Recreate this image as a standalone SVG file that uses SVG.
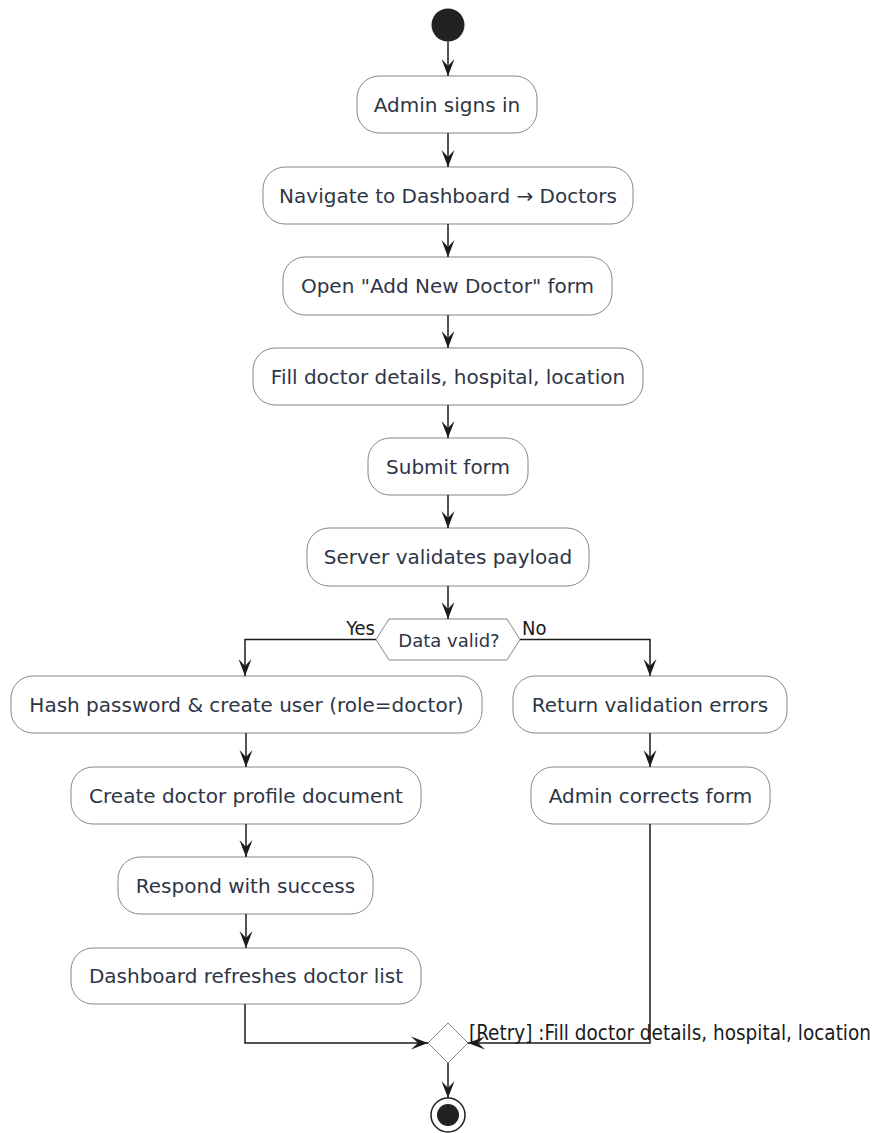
<svg xmlns="http://www.w3.org/2000/svg" width="876" height="1133" viewBox="0 0 876 1133">
  <style>
    .act rect { fill: #ffffff; stroke: #7f8794; stroke-width: 1; }
    .act text, .dec text { font-family: "DejaVu Sans", Verdana, sans-serif; font-size: 20px; fill: #2e3646; text-anchor: middle; dominant-baseline: central; }
    .dec text { font-size: 18px; }
    .dec polygon { fill: #ffffff; stroke: #7f8794; stroke-width: 1; }
    .edges path { fill: none; stroke: #1b1b1b; stroke-width: 1.5; }
    .lbl { font-family: "DejaVu Sans Condensed", "DejaVu Sans", sans-serif; font-size: 20px; fill: #1b1b1b; }
    .note { font-family: "DejaVu Sans Condensed", "DejaVu Sans", sans-serif; font-size: 20.5px; fill: #1b1b1b; }
  </style>
  <defs>
    <marker id="arr" viewBox="-18 -8 20 16" refX="0" refY="0" markerWidth="20" markerHeight="16" markerUnits="userSpaceOnUse" orient="auto">
      <path d="M0,0 L-17,-6.5 L-10,0 L-17,6.5 Z" fill="#1b1b1b"/>
    </marker>
  </defs>

  <rect width="876" height="1133" fill="#ffffff"/>

  <!-- start / end -->
  <g id="start"><circle cx="448" cy="25" r="16.5" fill="#222222"/></g>
  <g id="end">
    <circle cx="448" cy="1115" r="17" fill="#ffffff" stroke="#222222" stroke-width="1.5"/>
    <circle cx="448" cy="1115" r="11" fill="#222222"/>
  </g>

  <!-- activities -->
  <g id="n1" class="act"><rect x="357" y="76" width="180" height="57" rx="22"/><text x="447" y="104.5">Admin signs in</text></g>
  <g id="n2" class="act"><rect x="263" y="167" width="370" height="57" rx="22"/><text x="448" y="195.5">Navigate to Dashboard → Doctors</text></g>
  <g id="n3" class="act"><rect x="283" y="257" width="329" height="58" rx="22"/><text x="447.5" y="286">Open "Add New Doctor" form</text></g>
  <g id="n4" class="act"><rect x="253" y="348" width="390" height="57" rx="22"/><text x="448" y="376.5">Fill doctor details, hospital, location</text></g>
  <g id="n5" class="act"><rect x="368" y="438" width="160" height="57" rx="22"/><text x="448" y="466.5">Submit form</text></g>
  <g id="n6" class="act"><rect x="307" y="528" width="282" height="58" rx="22"/><text x="448" y="557">Server validates payload</text></g>

  <g id="d1" class="dec">
    <polygon points="376,639.5 389,619 507,619 520,639.5 507,660 389,660"/>
    <text x="449" y="640">Data valid?</text>
  </g>

  <g id="n7" class="act"><rect x="11" y="676" width="471" height="57" rx="22"/><text x="246.5" y="704.5">Hash password &amp; create user (role=doctor)</text></g>
  <g id="n8" class="act"><rect x="71" y="767" width="350" height="57" rx="22"/><text x="246" y="795.5">Create doctor profile document</text></g>
  <g id="n9" class="act"><rect x="118" y="857" width="255" height="57" rx="22"/><text x="245.5" y="885.5">Respond with success</text></g>
  <g id="n10" class="act"><rect x="71" y="948" width="350" height="56" rx="22"/><text x="246" y="976">Dashboard refreshes doctor list</text></g>

  <g id="n11" class="act"><rect x="513" y="676" width="274" height="57" rx="22"/><text x="650" y="704.5">Return validation errors</text></g>
  <g id="n12" class="act"><rect x="531" y="767" width="239" height="57" rx="22"/><text x="650.5" y="795.5">Admin corrects form</text></g>

  <g id="merge" class="dec"><polygon points="448,1023 468,1043 448,1063 428,1043"/></g>

  <!-- connectors -->
  <g id="edges" class="edges">
    <path d="M448,41.5 L448,76" marker-end="url(#arr)"/>
    <path d="M448,133 L448,167" marker-end="url(#arr)"/>
    <path d="M448,224 L448,257" marker-end="url(#arr)"/>
    <path d="M448,315 L448,348" marker-end="url(#arr)"/>
    <path d="M448,405 L448,438" marker-end="url(#arr)"/>
    <path d="M448,495 L448,528" marker-end="url(#arr)"/>
    <path d="M448,586 L448,619" marker-end="url(#arr)"/>
    <path d="M376,639.5 L245,639.5 L245,676" marker-end="url(#arr)"/>
    <path d="M520,639.5 L650,639.5 L650,676" marker-end="url(#arr)"/>
    <path d="M246,733 L246,767" marker-end="url(#arr)"/>
    <path d="M650,733 L650,767" marker-end="url(#arr)"/>
    <path d="M246,824 L246,857" marker-end="url(#arr)"/>
    <path d="M246,914 L246,948" marker-end="url(#arr)"/>
    <path d="M245,1004 L245,1043 L428,1043" marker-end="url(#arr)"/>
    <path d="M650,824 L650,1043 L468,1043" marker-end="url(#arr)"/>
    <path d="M448,1063 L448,1098" marker-end="url(#arr)"/>
  </g>

  <!-- edge labels -->
  <text class="lbl" x="375" y="635" text-anchor="end">Yes</text>
  <text class="lbl" x="522" y="635">No</text>
  <text class="note" x="469" y="1040">[Retry] :Fill doctor details, hospital, location</text>
</svg>
